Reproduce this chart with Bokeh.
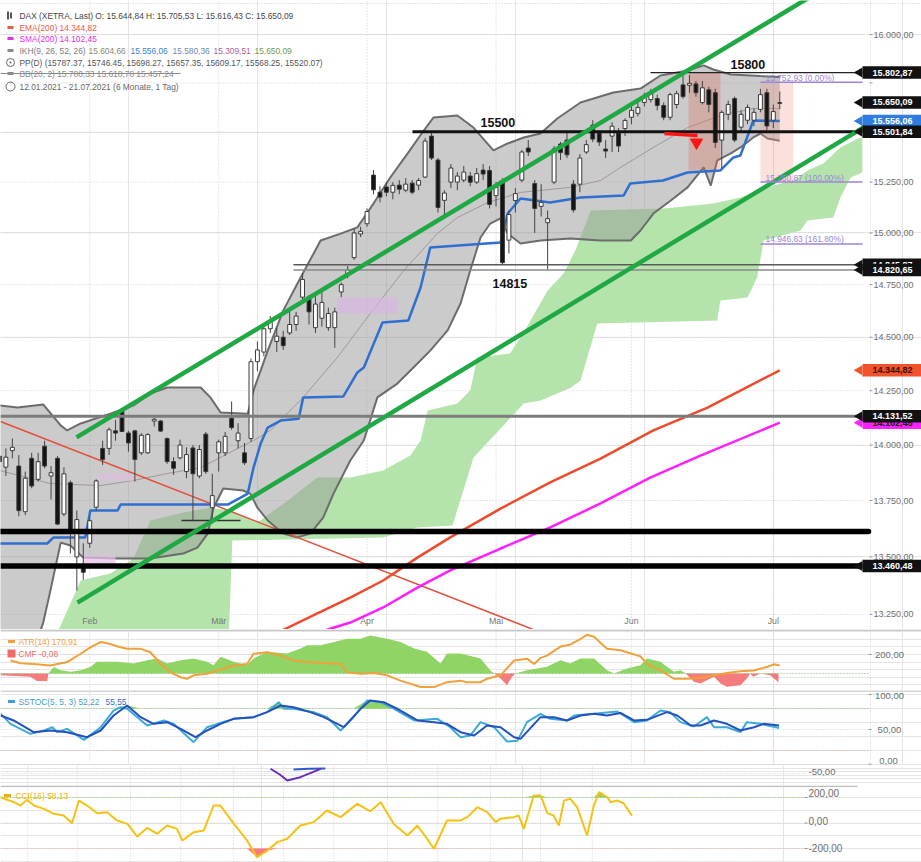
import math
import numpy as np
from bokeh.plotting import figure
from bokeh.models import Range1d
from bokeh.layouts import column
from bokeh.embed import file_html
from bokeh.resources import INLINE
from bokeh.core.properties import value

# ======================= DATA =======================
# daily candles, trading-day index 0 = 12.01.2021 ... 121 = 02.07.2021
opens = [13950, 13900, 13975, 13905, 13700, 13940, 13845, 13995, 13860, 13940,
         13690, 13830, 13500, 13455, 13560, 13720, 13985, 13985, 14065, 14155,
         14055, 14065, 13965, 13965, 14110, 14110, 14030, 13925, 13942, 13880,
         13987, 13860, 14050, 13718, 13965, 13965, 14123, 14020, 13965, 14030,
         14385, 14430, 14540, 14480, 14500, 14520, 14560, 14690, 14690, 14545,
         14590, 14545, 14545, 14715, 14800, 14880, 14995, 15045, 15285, 15200,
         15226, 15200, 15235, 15210, 15245, 15235, 15275, 15480, 15360, 15160,
         15250, 15250, 15260, 15280, 15250, 15310, 15308, 15183, 15258, 14965,
         15159, 15260, 15420, 15243, 15130, 15050, 15250, 15440, 15460, 15240,
         15240, 15400, 15535, 15495, 15415, 15480, 15495, 15518, 15575, 15595,
         15650, 15665, 15670, 15635, 15575, 15640, 15740, 15738, 15745, 15650,
         15715, 15700, 15460, 15590, 15670, 15525, 15560, 15560, 15615, 15700,
         15560, 15645]
highs = [13990, 13985, 14030, 13955, 13880, 13965, 13965, 14020, 13905, 13950,
         13900, 13840, 13705, 13560, 13675, 13845, 14020, 14080, 14115, 14160,
         14065, 14070, 14055, 14055, 14125, 14115, 14035, 13945, 14025, 13990,
         14000, 14000, 14060, 13870, 14025, 14060, 14200, 14100, 14010, 14400,
         14480, 14560, 14600, 14545, 14530, 14640, 14620, 14805, 14700, 14700,
         14730, 14640, 14640, 14760, 14840, 15020, 15030, 15120, 15310, 15230,
         15250, 15250, 15260, 15270, 15260, 15270, 15470, 15500, 15370, 15210,
         15340, 15300, 15330, 15300, 15320, 15340, 15330, 15250, 15270, 15110,
         15220, 15410, 15460, 15260, 15240, 15110, 15430, 15450, 15500, 15260,
         15390, 15460, 15560, 15510, 15460, 15550, 15520, 15570, 15640, 15650,
         15700, 15720, 15690, 15650, 15700, 15710, 15800, 15790, 15760, 15760,
         15730, 15720, 15610, 15660, 15680, 15610, 15640, 15620, 15720, 15720,
         15640, 15706]
lows = [13880, 13860, 13940, 13680, 13685, 13805, 13835, 13895, 13755, 13640,
        13680, 13515, 13353, 13400, 13540, 13705, 13910, 13955, 14020, 14060,
        13970, 13835, 13955, 13960, 14085, 14060, 13915, 13865, 13935, 13850,
        13661, 13850, 13870, 13661, 13880, 13950, 14070, 13985, 13910, 14015,
        14340, 14410, 14520, 14430, 14440, 14510, 14530, 14660, 14560, 14520,
        14550, 14530, 14450, 14690, 14780, 14870, 14980, 15030, 15190, 15150,
        15180, 15165, 15190, 15200, 15190, 15210, 15270, 15360, 15100, 15080,
        15220, 15210, 15250, 15230, 15240, 15260, 15120, 15130, 14846, 14900,
        15100, 15250, 15380, 15000, 15080, 14821, 15240, 15360, 15370, 15100,
        15200, 15390, 15450, 15430, 15370, 15400, 15400, 15480, 15540, 15580,
        15630, 15650, 15610, 15560, 15560, 15620, 15670, 15700, 15680, 15640,
        15600, 15420, 15320, 15560, 15450, 15500, 15540, 15530, 15600, 15510,
        15520, 15616]
closes = [13925, 13945, 13990, 13705, 13850, 13815, 13925, 13905, 13875, 13645,
          13870, 13620, 13665, 13433, 13660, 13838, 13935, 14070, 14055, 14062,
          14010, 13935, 14045, 14048, 14118, 14064, 13925, 13895, 14000, 13957,
          13870, 13980, 13880, 13772, 14015, 14040, 14080, 14055, 13920, 14385,
          14440, 14540, 14575, 14505, 14460, 14560, 14600, 14775, 14620, 14657,
          14665, 14612, 14620, 14750, 14820, 15000, 15008, 15105, 15212, 15176,
          15200, 15234, 15215, 15240, 15200, 15258, 15455, 15370, 15125, 15196,
          15320, 15280, 15300, 15250, 15292, 15290, 15140, 15224, 14856, 15090,
          15193, 15400, 15400, 15120, 15150, 15070, 15416, 15397, 15386, 15113,
          15370, 15437, 15465, 15450, 15405, 15530, 15430, 15559, 15610, 15625,
          15680, 15695, 15635, 15575, 15690, 15695, 15680, 15748, 15700, 15725,
          15640, 15448, 15600, 15640, 15460, 15590, 15625, 15600, 15690, 15531,
          15604, 15650]

month_labels = ["Feb", "Mär", "Apr", "Mai", "Jun", "Jul"]
month_idx = [14, 34, 57, 77, 98, 120]

price_ticks = [13250, 13500, 13750, 14000, 14250, 14500, 14750, 15000, 15250, 15500, 15750, 16000]
label_ticks = [13250, 13500, 13750, 14000, 14250, 14500, 14750, 15000, 15250, 16000]
label_texts = ["13.250,00", "13.500,00", "13.750,00", "14.000,00", "14.250,00", "14.500,00",
               "14.750,00", "15.000,00", "15.250,00", "16.000,00"]

# Bollinger bands (20,2)
bb_upper_x = [0, 2.8, 6.8, 9.5, 10.5, 12.6, 17.2, 20.8, 23.4, 26.0, 31.2, 32.7, 34.3, 38.5, 39.4,
              41.6, 44.0, 46.7, 49.8, 52.9, 55.5, 58.0, 60.6, 63.3, 65.8, 67.3, 71.0, 73.5, 76.6,
              78.8, 81.3, 83.9, 86.5, 90.1, 95.2, 99.4, 102.5, 106.7, 109.2, 110.7, 113.4, 118.0, 121.0]
bb_upper = [14182, 14172, 14186, 14090, 14067, 14099, 14144, 14182, 14237, 14265, 14265, 14219, 14149,
            14144, 14251, 14437, 14626, 14784, 14963, 14997, 15027, 15144, 15273, 15393, 15508, 15574,
            15584, 15523, 15408, 15443, 15473, 15493, 15569, 15650, 15701, 15721, 15788, 15814, 15840,
            15819, 15793, 15785, 15780]
bb_lower_x = [0, 5.6, 6.8, 7.9, 9.5, 11.0, 13.0, 18.3, 23.4, 28.5, 30.7, 32.3, 33.2, 34.7, 37.8, 38.9,
              40.0, 41.6, 44.0, 46.2, 48.2, 50.2, 51.8, 54.4, 56.5, 58.6, 61.7, 64.2, 66.8, 69.5, 71.5,
              73.0, 74.6, 76.1, 77.7, 78.8, 80.8, 83.9, 88.5, 93.2, 97.9, 99.4, 101.4, 104.1, 106.7,
              109.2, 110.3, 111.3, 113.4, 114.9, 116.9, 118.0, 119.1, 121.0]
bb_lower = [13053, 13118, 13216, 13353, 13563, 13550, 13497, 13493, 13493, 13515, 13541, 13603, 13718,
            13804, 13795, 13781, 13718, 13661, 13603, 13586, 13603, 13674, 13781, 13930, 14021, 14219,
            14283, 14358, 14437, 14532, 14660, 14818, 14978, 15046, 15071, 14997, 14949, 14963, 14973,
            14963, 14963, 15012, 15095, 15159, 15224, 15323, 15233, 15358, 15393, 15423, 15473, 15493,
            15468, 15457]
bb_mid_x = [0, 7.9, 15.7, 20.8, 26.0, 31.2, 36.3, 39.4, 42.0, 47.1, 52.4, 57.5, 62.7, 67.9, 71.0,
            75.7, 80.8, 88.5, 93.2, 96.3, 101.4, 106.7, 111.8, 116.9, 121.0]
bb_mid = [13885, 13826, 13817, 13840, 13871, 13898, 13975, 14021, 14067, 14219, 14405, 14612, 14818,
          14997, 15075, 15149, 15199, 15224, 15258, 15323, 15423, 15523, 15584, 15620, 15619]

# Ichimoku kijun-sen and cloud
kijun_x = [0, 7.4, 8.4, 13.3, 14.1, 18.3, 18.8, 35.4, 37.4, 38.5, 39.4, 40.5, 41.6, 43.6, 46.4, 47.1,
           53.3, 55.5, 56.5, 59.4, 63.4, 65.3, 66.8, 77.7, 78.8, 80.8, 85.4, 90.1, 96.8, 97.8, 102.9,
           106.7, 111.8, 113.8, 114.9, 116.9, 121.0]
kijun = [13559, 13559, 13586, 13586, 13705, 13705, 13732, 13732, 13763, 13781, 13898, 14007, 14080,
         14112, 14121, 14219, 14223, 14335, 14358, 14569, 14579, 14736, 14929, 14953, 15095, 15169,
         15149, 15174, 15184, 15243, 15258, 15298, 15308, 15373, 15383, 15559, 15556]
cloud_top_x = [9.2, 12.6, 17.2, 20.8, 23.4, 28.5, 32.7, 35.8, 40.0, 44.1, 49.3, 54.4, 59.5, 63.7,
               65.3, 66.4, 71.0, 73.0, 74.1, 79.2, 81.3, 85.0, 87.5, 89.3, 91.7, 103.0, 110.7, 114.9,
               120.0, 123.1, 125.3, 127.8, 130.4, 133.1, 133.8]
cloud_top = [13185, 13397, 13428, 13493, 13661, 13696, 13718, 13705, 13652, 13737, 13853, 13853,
             13885, 13953, 14021, 14158, 14191, 14251, 14405, 14424, 14522, 14722, 14804, 14915,
             15110, 15120, 15144, 15174, 15233, 15258, 15308, 15344, 15423, 15468, 15473]
cloud_bot_x = [9.2, 35.5, 36.1, 59.5, 64.8, 70.25, 73.5, 81.3, 83.9, 88.6, 90.1, 92.7, 111.3, 111.8,
               116.0, 117.5, 118.5, 124.2, 125.3, 129.3, 130.4, 132.0, 133.8]
cloud_bot = [13100, 13100, 13572, 13586, 13630, 13639, 13943, 14191, 14205, 14264, 14297, 14565,
             14579, 14674, 14689, 14785, 14963, 15012, 15061, 15075, 15174, 15273, 15298]

# moving averages
ema_x = [40.5, 44.1, 49.3, 54.4, 59.5, 64.8, 69.9, 77.7, 85.4, 93.2, 101.4, 109.8, 121.0]
ema200 = [13110, 13185, 13254, 13323, 13397, 13497, 13586, 13714, 13831, 13939, 14067, 14172, 14344.82]
sma_x = [47.5, 50.9, 54.4, 59.5, 64.8, 69.9, 77.7, 85.4, 93.2, 100.9, 108.7, 121.0]
sma200 = [13139, 13185, 13215, 13280, 13366, 13441, 13537, 13630, 13737, 13853, 13952, 14102.45]

# drawn trend lines (index, price)
red_trend_x, red_trend = [0.16, 83.9], [14108, 13173]
chan_up_x, chan_up = [11.95, 125.8], [14035, 16199]
chan_lo_x, chan_lo = [12.1, 134.75], [13301, 15539]

# horizontal levels
lvl_15800, lvl_15500 = 15802.87, 15501.84
lvl_14846, lvl_14821 = 14845.87, 14820.65
lvl_14131, lvl_13612, lvl_13460 = 14131.52, 13612.0, 13460.48
lvl_feb_low = 13661

# marked zones: (left idx, right idx, bottom, top)
zone_left = [52.4, 13.0, 15.2, 106.85, 118.0]
zone_right = [61.7, 18.0, 20.8, 111.8, 123.1]
zone_bottom = [14612, 13471, 13836, 15308, 15243]
zone_top = [14688, 13506, 13871, 15805, 15757]

# Fibonacci
fib_values = [15752.93, 15250.87, 14946.63]
fib_texts = ["15.752,93 (0.00%)", "15.250,87 (100.00%)", "14.946,63 (161.80%)"]

# price tags on right axis
tag_values = [14102.45, 14131.52, 14845.87, 14820.65, 14344.82, 15802.87, 15650.09, 15556.06, 15501.84, 13460.48]
tag_texts = ["14.102,45", "14.131,52", "14.845,87", "14.820,65", "14.344,82", "15.802,87", "15.650,09",
             "15.556,06", "15.501,84", "13.460,48"]

# ATR(14) and CMF
atr_x = [1.7, 3.3, 5.3, 7.9, 9.0, 10.5, 12.6, 14.1, 15.7, 17.2, 18.3, 19.8, 21.9, 23.4, 25.0, 26.5,
         28.1, 29.1, 30.1, 32.2, 34.3, 36.3, 38.4, 39.4, 41.5, 43.6, 45.6, 47.7, 52.9, 53.9, 56.0,
         58.1, 60.1, 62.2, 65.3, 67.4, 69.4, 71.5, 72.5, 74.6, 75.6, 77.7, 79.8, 81.8, 82.9, 83.9,
         84.9, 87.0, 88.5, 90.1, 91.1, 92.2, 94.2, 96.3, 97.3, 99.4, 100.4, 102.5, 104.6, 106.6,
         108.7, 110.8, 112.8, 114.9, 117.0, 119.0, 120.1, 121.0]
atr = [184, 177, 175, 171, 175, 180, 202, 219, 233, 228, 221, 215, 215, 206, 175, 153, 140, 136, 145,
       149, 160, 171, 175, 202, 206, 197, 184, 180, 175, 153, 149, 151, 145, 131, 114, 114, 127, 131,
       127, 127, 136, 145, 184, 189, 175, 191, 197, 221, 226, 241, 252, 247, 215, 211, 206, 195, 175,
       158, 136, 136, 138, 145, 151, 156, 158, 167, 174, 170.91]
cmf_x = [0.2, 3.3, 4.8, 5.8, 7.4, 7.6, 8.4, 9.5, 11.0, 12.6, 14.1, 15.1, 18.3, 20.8, 22.9, 24.5, 26.0,
         28.1, 30.1, 32.2, 33.2, 34.3, 36.3, 38.4, 39.4, 41.5, 44.6, 46.7, 47.7, 49.8, 51.9, 53.9, 56.0,
         57.5, 60.1, 62.2, 64.3, 66.3, 68.4, 69.4, 71.5, 74.6, 76.1, 76.7, 77.7, 78.7, 79.5, 80.0, 81.8,
         83.4, 84.9, 87.0, 88.5, 90.1, 92.2, 94.2, 95.3, 97.3, 99.4, 100.4, 102.5, 103.5, 104.6, 105.6,
         106.4, 107.7, 108.7, 109.7, 110.8, 111.8, 112.8, 114.9, 115.9, 116.4, 116.9, 118.0, 119.5, 120.8]
cmf = [-0.015, -0.025, -0.03, -0.07, -0.07, 0.0, 0.06, 0.03, 0.015, 0.03, 0.06, 0.107, 0.107, 0.092,
       0.123, 0.138, 0.092, 0.123, 0.138, 0.107, 0.077, 0.153, 0.107, 0.077, 0.138, 0.2, 0.184, 0.23,
       0.26, 0.26, 0.29, 0.32, 0.32, 0.35, 0.32, 0.29, 0.23, 0.2, 0.092, 0.184, 0.184, 0.138, 0.031,
       0.0, -0.046, -0.107, -0.031, 0.0, 0.031, 0.046, 0.061, 0.123, 0.092, 0.138, 0.138, 0.031, 0.0,
       0.046, 0.077, 0.138, 0.107, 0.061, 0.015, 0.031, 0.0, -0.077, -0.092, -0.061, -0.031, -0.092,
       -0.123, -0.107, -0.046, 0.0, -0.031, 0.0, -0.015, -0.08]

# Slow stochastic (5,5,3)
k_x = [0.2, 1.7, 4.8, 6.9, 8.2, 9.0, 10.5, 13.1, 15.7, 17.7, 18.8, 19.8, 22.9, 25.5, 27.0, 30.1, 32.2,
       33.8, 36.3, 39.4, 41.5, 43.3, 44.1, 45.6, 48.7, 50.8, 52.9, 54.9, 57.0, 59.1, 61.2, 64.3, 67.9,
       69.9, 71.5, 73.0, 74.6, 76.7, 78.7, 80.3, 81.8, 83.9, 85.4, 88.0, 89.1, 92.2, 95.8, 98.4, 100.4,
       102.5, 104.0, 105.6, 107.7, 109.7, 110.8, 112.8, 114.9, 115.9, 118.0, 120.9]
k_val = [72.4, 58.1, 43.8, 48.6, 53.3, 46.2, 51.0, 35.2, 53.3, 77.1, 81.9, 79.5, 55.7, 62.9, 58.1, 31.9,
         53.3, 58.1, 65.2, 67.6, 74.8, 89.0, 79.5, 79.5, 74.8, 67.6, 48.6, 67.6, 91.4, 89.0, 79.5, 62.9,
         65.2, 53.3, 39.0, 41.4, 60.5, 53.3, 32.9, 33.8, 60.5, 72.4, 65.2, 62.9, 70.0, 72.4, 75.7, 60.5,
         62.9, 77.1, 74.8, 60.5, 54.3, 67.6, 53.3, 53.3, 46.2, 60.5, 58.1, 52.22]
d_x = [0.2, 2.2, 5.3, 7.9, 10.5, 13.6, 15.7, 17.7, 19.8, 21.9, 23.9, 26.0, 28.1, 30.4, 32.2, 34.3, 36.3,
       39.4, 41.5, 43.6, 45.6, 48.2, 50.3, 53.4, 56.0, 57.5, 59.6, 62.2, 64.8, 67.4, 69.4, 71.5, 73.6,
       75.6, 77.7, 79.8, 80.8, 83.9, 86.0, 88.0, 90.1, 92.2, 94.2, 96.3, 98.4, 100.4, 103.5, 105.1,
       107.2, 108.7, 110.8, 112.8, 114.9, 117.0, 118.5, 120.9]
d_val = [70.0, 62.9, 46.2, 48.6, 46.2, 39.0, 48.6, 70.0, 84.3, 67.6, 58.1, 60.5, 51.0, 39.0, 48.6, 58.1,
         65.2, 67.6, 74.8, 84.3, 81.9, 74.8, 67.6, 53.3, 79.5, 91.4, 89.0, 77.1, 62.9, 60.5, 58.1, 46.2,
         41.4, 55.7, 53.3, 39.0, 36.7, 67.6, 67.6, 62.9, 70.0, 72.4, 70.0, 73.6, 62.9, 63.8, 74.8, 70.0,
         55.7, 55.7, 62.9, 58.1, 48.6, 53.3, 58.1, 55.55]

# CCI(16) (own, compressed time axis of this panel)
cci_x = [0, 2.6, 3.8, 5.1, 6.4, 8.3, 10.2, 12.1, 13.7, 15.0, 16.6, 18.5, 20.4, 22.3, 24.3, 26.2, 28.1,
         30.0, 31.9, 33.8, 34.8, 37.0, 38.9, 40.8, 42.1, 44.7, 47.2, 49.1, 51.1, 53.0, 54.9, 57.4, 60.0,
         62.5, 65.1, 68.3, 70.8, 72.8, 75.3, 77.9, 79.8, 81.0, 83.0, 85.5, 88.1, 89.4, 91.3, 93.2, 94.8,
         95.7, 98.3, 99.2, 100.2, 102.1, 103.4, 104.7, 105.9, 106.9, 107.9, 109.1, 110.4, 112.3, 113.6,
         114.6, 116.2, 116.8, 118.1, 119.3, 120.9]
cci = [202, 163, 137, 182, 137, 111, 72, 59, -2, 176, 137, 77, 85, 20, -7, -106, -38, -85, -20, -46,
       -137, -72, -59, 137, 137, -7, -137, -268, -216, -150, -124, -20, 7, 98, 46, 150, 92, 163, -7,
       -98, -20, -85, -202, 20, 20, 46, 124, 85, 7, 33, 46, 59, -46, 216, 216, 77, 59, -20, 176, 189,
       124, -98, 137, 242, 202, 163, 176, 155, 58.13]
cci_grid = [5.2, 14.7, 24.9, 34.5, 44.6, 54.2, 63.8, 74.1, 83.7, 93.8, 103.4, 113.3]

# truncated extra panel (only a fragment visible)
frag_x = [51.7, 53.6, 54.9, 57.4, 59.9, 61.3]
frag_val = [-46.1, -55.0, -62.9, -58.1, -50.5, -46.1]
frag2_x = [56.1, 59.0, 62.2]
frag2_val = [-47.0, -46.1, -45.6]

# ======================= GEOMETRY =======================
W = 921
PXD = 6.449                     # pixels per trading day


def ix(px):
    return (px + 1.05) / PXD


def pr(py):
    return 16000.0 * math.exp(-(py - 34.0) / 3075.0)


def ci(px):
    return px / 5.223


X0, X1, EDGE, AX = ix(0), ix(921), ix(862), ix(870)
Y0, Y1 = pr(629), pr(0)
CX1 = ci(921)

FONT = value("Liberation Sans")
GRID = "#d7cbd3"
LEG = "8.4px"


def base_fig(h, xr, yr, **kw):
    f = figure(width=W, height=h, x_range=xr, y_range=yr, toolbar_location=None,
               output_backend="svg", x_axis_location=None, y_axis_location=None,
               min_border=0, **kw)
    f.outline_line_color = None
    f.background_fill_color = "white"
    f.border_fill_color = "white"
    return f


def txt(fig, x, y, s, color, size=LEG, align="left", bold=False, baseline="middle", **kw):
    fig.text(x=[x], y=[y], text=[s], text_font=FONT, text_font_size=size, text_color=color,
             text_align=align, text_baseline=baseline,
             text_font_style="bold" if bold else "normal", **kw)


# ======================= MAIN PANEL =======================
xr = Range1d(X0, X1)
p = base_fig(629, xr, Range1d(Y0, Y1), y_axis_type="log")

# grid
p.segment(x0=X0, y0=price_ticks, x1=EDGE, y1=price_ticks, line_color=GRID, line_dash="1 2")
p.segment(x0=month_idx, y0=Y0, x1=month_idx, y1=Y1, line_color=GRID, line_dash="1 2")
p.segment(x0=[AX], y0=[Y0], x1=[AX], y1=[Y1], line_color="#d0d0d0", line_dash="1 2")
p.segment(x0=[X0], y0=[pr(3)], x1=[X1], y1=[pr(3)], line_color=GRID, line_dash="1 2")

# ichimoku cloud
p.patch(cloud_top_x + cloud_bot_x[::-1], cloud_top + cloud_bot[::-1],
        fill_color="#b4e4ab", line_color=None)

# Bollinger band
p.patch(bb_upper_x + bb_lower_x[::-1], bb_upper + bb_lower[::-1],
        fill_color="#989898", fill_alpha=0.5, line_color=None)
p.line(bb_upper_x, bb_upper, line_color="#6c6c6c", line_width=2)
p.line(bb_lower_x, bb_lower, line_color="#6c6c6c", line_width=2)
p.line(bb_mid_x, bb_mid, line_color="#a4969c", line_width=1)

# zones
p.quad(left=zone_left, right=zone_right, bottom=zone_bottom, top=zone_top,
       fill_color=["#d9b3e3", "#e8bfe8", "#e2bde2", "#e26a58", "#f29a88"],
       fill_alpha=[0.7, 0.7, 0.55, 0.3, 0.3], line_color=None)

# moving averages and trend line
p.line(red_trend_x, red_trend, line_color="#e4503c", line_width=1.5)
p.line(ema_x, ema200, line_color="#ee4a2c", line_width=2.5)
p.line(sma_x, sma200, line_color="#ff1eff", line_width=2.5)

# kijun
p.line(kijun_x, kijun, line_color="#2f6fd0", line_width=2.5)

# candles
idx = list(range(len(closes)))
body_top = [max(o, c) for o, c in zip(opens, closes)]
body_bot = [min(o, c) for o, c in zip(opens, closes)]
body_col = ["#ffffff" if c >= o else "#141414" for o, c in zip(opens, closes)]
p.segment(x0=idx, y0=lows, x1=idx, y1=highs, line_color="#444444", line_width=1)
p.vbar(x=idx, width=0.6, top=body_top, bottom=body_bot, fill_color=body_col,
       line_color="#3a3a3a", line_width=1)

# horizontal levels
p.segment(x0=[X0], y0=[lvl_14131], x1=[EDGE], y1=[lvl_14131], line_color="#7c7c7c", line_width=3)
p.segment(x0=[ix(293)], y0=[lvl_14846], x1=[EDGE], y1=[lvl_14846], line_color="#5a5a5a", line_width=1.5)
p.segment(x0=[ix(293)], y0=[lvl_14821], x1=[EDGE], y1=[lvl_14821], line_color="#8a8a8a", line_width=1.5)
p.segment(x0=[ix(412)], y0=[lvl_15500], x1=[EDGE], y1=[lvl_15500], line_color="#111111", line_width=3)
p.segment(x0=[ix(650)], y0=[lvl_15800], x1=[EDGE], y1=[lvl_15800], line_color="#222222", line_width=1.2)
p.segment(x0=[ix(181)], y0=[lvl_feb_low], x1=[ix(240)], y1=[lvl_feb_low], line_color="#333333", line_width=1.5)
p.segment(x0=[X0], y0=[lvl_13612], x1=[ix(868)], y1=[lvl_13612], line_color="#000000",
          line_width=5.5, line_cap="round")
p.segment(x0=[X0], y0=[lvl_13460], x1=[EDGE], y1=[lvl_13460], line_color="#000000", line_width=5.5)

# channel lines
p.line(chan_up_x, chan_up, line_color="#1fa844", line_width=4.5)
p.line(chan_lo_x, chan_lo, line_color="#1fa844", line_width=4.5)

# fibonacci
p.segment(x0=ix(760), y0=fib_values, x1=EDGE, y1=fib_values, line_color="#9d86d6", line_width=1.5)
for fv, ft, ty in zip(fib_values, fib_texts, [77, 177, 238]):
    txt(p, ix(765), pr(ty), ft, "#9d86d6")

# red arrow
p.line([ix(664), ix(697)], [pr(133), pr(135)], line_color="#ff1414", line_width=3.5)
p.scatter(x=[ix(696)], y=[pr(142)], marker="inverted_triangle", size=12,
          fill_color="#ff1414", line_color="#ff1414")

# annotations
txt(p, ix(480), pr(122), "15500", "#111111", size="12.5px", bold=True)
txt(p, ix(730), pr(64), "15800", "#111111", size="12.5px", bold=True)
txt(p, ix(492), pr(283), "14815", "#111111", size="12.5px", bold=True)

# month labels
p.text(x=month_idx, y=pr(620), text=month_labels, text_font=FONT, text_font_size="8.8px",
       text_color="#777777", text_align="center", text_baseline="middle")

# price axis labels
p.text(x=ix(873), y=label_ticks, text=label_texts, text_font=FONT, text_font_size="9px",
       text_color="#6e6e6e", text_align="left", text_baseline="middle")
p.segment(x0=ix(869), y0=price_ticks, x1=ix(872), y1=price_ticks, line_color="#999999")

# price tags
tag_fill = ["#ff22ff", "#111111", "#111111", "#111111", "#f0522c", "#111111", "#111111",
            "#2f7de0", "#111111", "#111111"]
tag_txtc = ["#111111", "#ffffff", "#ffffff", "#ffffff", "#3a0c00", "#ffffff", "#ffffff",
            "#ffffff", "#ffffff", "#ffffff"]
for v, t, fc, tc in zip(tag_values, tag_texts, tag_fill, tag_txtc):
    p.rect(x=[ix(891.5)], y=[v], width=ix(921) - ix(862), height=12.5, height_units="screen",
           fill_color=fc, line_color=None)
    p.scatter(x=[ix(859)], y=[v], marker="triangle", angle=math.pi / 2, size=10,
              fill_color=fc, line_color=None)
    txt(p, ix(892), v, t, tc, size="9px", align="center", bold=True)

# legend block
txt(p, ix(19), pr(15), "DAX (XETRA, Last)  O: 15.644,84  H: 15.705,53  L: 15.616,43  C: 15.650,09", "#454545")
txt(p, ix(19), pr(27), "EMA(200)  14.344,82", "#ea5a48")
txt(p, ix(19), pr(38), "SMA(200)  14.102,45", "#e62ee6")
for s, px, c in [("IKH(9, 26, 52, 26)", 19, "#7c7c7c"), ("15.604,66", 88, "#8a8a72"),
                 ("15.556,06", 130, "#3d7fd8"), ("15.580,36", 172, "#6f88b0"),
                 ("15.309,51", 213, "#b0609a"), ("15.650,09", 254, "#6f9a55")]:
    txt(p, ix(px), pr(50), s, c)
txt(p, ix(19), pr(62), "PP(D)  (15787.37, 15746.45, 15698.27, 15657.35, 15609.17, 15568.25, 15520.07)", "#555555")
txt(p, ix(19), pr(73), "BB(20, 2)  15.780,33  15.618,78  15.457,24", "#8a8a8a")
txt(p, ix(19), pr(86), "12.01.2021 - 21.07.2021  (6 Monate, 1 Tag)", "#666666")
p.segment(x0=[X0], y0=[pr(73)], x1=[ix(180)], y1=[pr(73)], line_color="#8a8a8a", line_width=1)
p.rect(x=[ix(7.5), ix(10.5)], y=[pr(15), pr(15)], width=2, height=[8, 6], width_units="screen",
       height_units="screen", fill_color="#555555", line_color=None)
p.rect(x=[ix(10)] * 4, y=[pr(27), pr(38), pr(50), pr(73)], width=6, height=3, width_units="screen",
       height_units="screen", fill_color=["#ea5a48", "#e62ee6", "#8a8a8a", "#8a8a8a"], line_color=None)
p.scatter(x=[ix(10)], y=[pr(62)], marker="circle_dot", size=8, fill_color=None, line_color="#666666")
p.scatter(x=[ix(10)], y=[pr(86)], marker="circle", size=9, fill_color=None, line_color="#666666")


# ======================= ATR / CMF PANEL =======================
def atr_at(py):
    return 200 + (654 - py) * 2.64


def cmf_at(py):
    return (673 - py) * 0.0092


pa = base_fig(61, xr, Range1d(atr_at(690), atr_at(629)))
pa.extra_y_ranges = {"cmf": Range1d(cmf_at(690), cmf_at(629))}
pa.segment(x0=month_idx, y0=atr_at(690), x1=month_idx, y1=atr_at(629), line_color=GRID, line_dash="1 2")
pa.segment(x0=[AX], y0=[atr_at(690)], x1=[AX], y1=[atr_at(629)], line_color="#d0d0d0", line_dash="1 2")
pa.segment(x0=[X0], y0=[200], x1=[AX], y1=[200], line_color=GRID, line_dash="1 2")
pa.segment(x0=[X0], y0=[atr_at(629.8)], x1=[X1], y1=[atr_at(629.8)], line_color="#c6c6c6", line_width=1.5)
cmf_arr = np.array(cmf)
pa.varea(x=cmf_x, y1=0, y2=np.maximum(cmf_arr, 0), fill_color="#8fd464", y_range_name="cmf")
pa.varea(x=cmf_x, y1=np.minimum(cmf_arr, 0), y2=0, fill_color="#f47c7c", y_range_name="cmf")
pa.segment(x0=[X0], y0=[0], x1=[AX], y1=[0], line_color="#6cc05a", line_dash="1 2", y_range_name="cmf")
pa.line(atr_x, atr, line_color="#f2a03a", line_width=2)
txt(pa, ix(889), 200, "200,00", "#6e6e6e", size="9.5px", align="center")
pa.segment(x0=[ix(868)], y0=[200], x1=[ix(871)], y1=[200], line_color="#999999")
txt(pa, ix(18), atr_at(641), "ATR(14)  170,91", "#f2a03a")
txt(pa, ix(18), atr_at(653), "CMF  -0,08", "#f06a6a")
pa.rect(x=[ix(11)], y=[atr_at(641)], width=7, height=3, width_units="screen", height_units="screen",
        fill_color="#f2a03a", line_color=None)
pa.rect(x=[ix(11)], y=[atr_at(653)], width=8, height=8, width_units="screen", height_units="screen",
        fill_color="#f06a6a", line_color=None)


# ======================= SSTOC PANEL =======================
def sst_at(py):
    return (764 - py) / 0.7


ps = base_fig(75, xr, Range1d(sst_at(765), sst_at(690)))
ps.segment(x0=month_idx, y0=sst_at(765), x1=month_idx, y1=sst_at(690), line_color=GRID, line_dash="1 2")
ps.segment(x0=[AX], y0=[sst_at(765)], x1=[AX], y1=[sst_at(690)], line_color="#d0d0d0", line_dash="1 2")
ps.segment(x0=[X0], y0=[sst_at(690.6)], x1=[X1], y1=[sst_at(690.6)], line_color="#c6c6c6", line_width=1.5)
ps.segment(x0=[X0], y0=[80], x1=[AX], y1=[80], line_color="#7cc46a", line_dash="1 2")
ps.segment(x0=[X0], y0=[20], x1=[AX], y1=[20], line_color="#f0a0a0", line_dash="1 2")
ps.segment(x0=[X0], y0=[50], x1=[AX], y1=[50], line_color=GRID, line_dash="1 2")
ps.segment(x0=[X0], y0=[0], x1=[AX], y1=[0], line_color="#c8c8c8", line_dash="1 2")
ps.varea(x=k_x, y1=80, y2=np.maximum(np.array(k_val), 80), fill_color="#8fd464")
ps.varea(x=d_x, y1=80, y2=np.maximum(np.array(d_val), 80), fill_color="#8fd464")
ps.line(k_x, k_val, line_color="#3eaad8", line_width=2)
ps.line(d_x, d_val, line_color="#2352c0", line_width=2)
txt(ps, ix(889), 97.5, "100,00", "#6e6e6e", size="9.5px", align="center")
txt(ps, ix(889), 50, "50,00", "#6e6e6e", size="9.5px", align="center")
txt(ps, ix(888), 4.5, "0,00", "#6e6e6e", size="9.5px", align="center")
ps.segment(x0=ix(868), y0=[100, 50, 0.5], x1=ix(871), y1=[100, 50, 0.5], line_color="#999999")
txt(ps, ix(18), sst_at(701), "SSTOC(5, 5, 3)  52,22", "#3ea0d0")
txt(ps, ix(105), sst_at(701), "55,55", "#3a6cc4")
ps.rect(x=[ix(11)], y=[sst_at(701)], width=7, height=3, width_units="screen", height_units="screen",
        fill_color="#3ea0d0", line_color=None)


# ======================= FRAGMENT STRIP =======================
def gl_at(py):
    return -50 - (py - 771) / 0.7


cr = Range1d(0, CX1)
pg = base_fig(20, cr, Range1d(gl_at(785), gl_at(765)))
pg.segment(x0=cci_grid, y0=gl_at(785), x1=cci_grid, y1=gl_at(765), line_color=GRID, line_dash="1 2")
pg.segment(x0=[0], y0=[gl_at(773)], x1=[ci(805)], y1=[gl_at(773)], line_color=GRID, line_dash="1 2")
pg.line(frag2_x, frag2_val, line_color="#2a5ad0", line_width=2)
pg.line(frag_x, frag_val, line_color="#6a2fb8", line_width=2)
txt(pg, ci(808), -50, "-50,00", "#6e6e6e", size="9.5px")


# ======================= CCI PANEL =======================
def cci_at(py):
    return (822.5 - py) * 7.843


pc = base_fig(77, cr, Range1d(cci_at(862), cci_at(785)))
pc.segment(x0=cci_grid, y0=cci_at(862), x1=cci_grid, y1=cci_at(785), line_color=GRID, line_dash="1 2")
pc.segment(x0=[0], y0=[cci_at(785.8)], x1=[ci(857)], y1=[cci_at(785.8)], line_color="#bdbdbd", line_width=1.5)
pc.segment(x0=[0], y0=[200], x1=[ci(805)], y1=[200], line_color="#7cc46a", line_dash="1 2")
pc.segment(x0=[0], y0=[-200], x1=[ci(805)], y1=[-200], line_color="#f0a0a0", line_dash="1 2")
pc.segment(x0=[0], y0=[0], x1=[ci(805)], y1=[0], line_color=GRID, line_dash="1 2")
cci_arr = np.array(cci)
pc.varea(x=cci_x, y1=200, y2=np.maximum(cci_arr, 200), fill_color="#8fd464")
pc.varea(x=cci_x, y1=np.minimum(cci_arr, -200), y2=-200, fill_color="#f47c7c")
pc.line(cci_x, cci, line_color="#f5c213", line_width=2)
txt(pc, ci(808), 200, "200,00", "#6e6e6e", size="10px", y_offset=-4)
txt(pc, ci(808), 0, "0,00", "#6e6e6e", size="10px", y_offset=-2)
txt(pc, ci(808), -200, "-200,00", "#6e6e6e", size="10px", y_offset=-1)
pc.segment(x0=ci(804), y0=[200, 0, -200], x1=ci(807), y1=[200, 0, -200], line_color="#999999")
txt(pc, ci(15), cci_at(795), "CCI(16)  58,13", "#eab400")
pc.rect(x=[ci(7)], y=[cci_at(795)], width=7, height=3, width_units="screen", height_units="screen",
        fill_color="#eab400", line_color=None)

layout = column(p, pa, ps, pg, pc)
html = file_html(layout, INLINE, title="DAX")
with open("out.html", "w", encoding="utf-8") as f:
    f.write(html)
